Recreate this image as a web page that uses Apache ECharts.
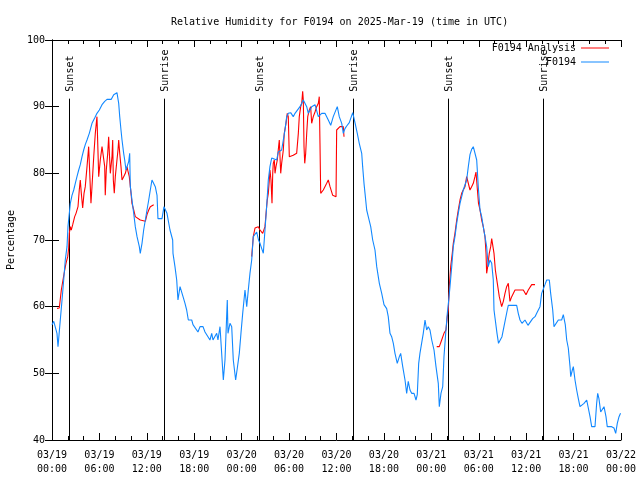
<!DOCTYPE html>
<html><head><meta charset="utf-8">
<script src="https://cdn.jsdelivr.net/npm/echarts@6/dist/echarts.min.js"></script>
<style>html,body{margin:0;padding:0;background:#fff}#c{width:640px;height:480px}</style>
</head><body><div id="c"></div>
<script>
// Hours since 2025-03-19 00:00 UTC
const blueHours = [0.00,0.22,0.42,0.63,0.76,0.82,1.05,1.27,1.48,1.68,1.90,2.02,2.19,2.32,2.53,2.75,2.95,3.16,3.38,3.58,3.80,4.01,4.21,4.43,4.72,5.06,5.40,5.69,5.99,6.33,6.67,6.96,7.50,7.81,8.22,8.44,8.57,8.73,8.86,9.07,9.20,9.36,9.58,9.71,9.83,9.91,10.12,10.34,10.54,10.76,11.05,11.17,11.39,11.60,11.81,12.02,12.24,12.44,12.65,12.87,13.07,13.29,13.41,13.92,14.17,14.42,14.55,14.93,15.27,15.31,15.56,15.78,15.94,16.20,16.41,16.58,16.83,17.04,17.25,17.68,17.84,18.09,18.47,18.73,19.11,19.36,19.57,19.99,20.21,20.37,20.84,21.00,21.26,21.47,21.68,21.89,22.02,22.18,22.27,22.52,22.74,22.94,23.24,23.45,23.70,23.91,24.13,24.42,24.64,24.84,25.05,25.27,25.47,25.90,26.13,26.32,26.74,26.95,27.16,27.37,27.58,27.80,28.43,28.63,29.06,29.27,29.48,29.70,29.90,30.20,30.53,30.75,31.38,31.80,32.23,32.43,32.86,33.28,33.70,34.13,34.54,34.96,35.27,35.59,36.10,36.35,36.66,36.86,37.07,37.29,37.62,38.05,38.34,38.63,38.88,39.19,39.31,39.48,39.61,39.82,40.02,40.33,40.58,40.87,41.09,41.42,41.72,42.01,42.35,42.55,42.77,42.98,43.19,43.40,43.69,43.95,44.12,44.38,44.67,44.88,45.08,45.30,45.51,45.81,46.06,46.22,46.40,46.56,46.78,46.98,47.20,47.41,47.61,47.83,48.05,48.34,48.59,48.88,49.01,49.22,49.44,49.60,49.85,50.02,50.20,50.36,50.58,50.78,50.99,51.21,51.41,51.63,51.84,52.04,52.26,52.47,52.68,52.89,53.10,53.31,53.46,53.74,53.94,54.16,54.37,54.57,54.79,55.00,55.20,55.42,55.64,55.84,55.93,56.06,56.31,56.50,56.69,56.94,57.19,57.61,57.74,58.80,59.00,59.22,59.47,59.85,60.23,60.48,60.82,61.12,61.41,61.75,61.96,62.16,62.38,62.60,62.93,63.10,63.36,63.52,63.77,64.07,64.49,64.70,64.88,64.95,65.13,65.33,65.55,65.64,65.84,65.97,66.18,66.39,66.60,66.81,67.03,67.32,67.66,67.86,68.08,68.29,68.71,68.92,69.05,69.21,69.43,69.68,69.85,70.10,70.26,70.82,71.11,71.33,71.53,71.75,71.94];
const blueValues = [57.3,57.8,58,56,54,54.3,58,61,64,67,69,72,74,75.5,76.7,77.5,78.5,79.5,80.5,81.3,82.5,83.5,84.3,85,86,87.5,88.3,89,89.5,90.3,90.8,91.1,91.1,91.8,92.1,90.5,88.5,86.5,85,83,82,80.5,80.5,81.8,83,78,76,74,72,70.5,69,68,69.5,71.5,73,74.5,76,77.5,79,79,78,76.7,73.2,73.2,75,75,74,71.5,70,68,66,64,61,63,63,61.5,60.5,59.5,58,58,57.3,57,56.2,57,57,56.2,56,55,56,55,56,55,57,57,49,52,56,61,56,57.5,57,52,49,50.8,53,56,59,62.5,60,62.5,65,67,70.5,71.2,70,69.5,68,71.5,75,79,81,82.3,82,83.2,83.5,85,86.5,88.5,89,89.1,88.5,89,90,91,90,89,90,90.3,88.5,89,89,88,87.2,88.5,90,88.5,87.5,86,86.7,87.1,87.6,89.1,87.6,86,84.5,83,81,78.5,77,74.5,73.5,72,70,68.5,66,63.5,62,60.3,59.7,58.5,56,55.5,54.5,53,51.5,52.5,53,51,49,47,48.8,47.5,47,47,46,46.8,51.5,53,53,56,58,56.5,57,56.5,55,53.5,51,48.5,45,47,48,52.5,56.5,59,61,63,66,69,70.5,72.5,74,75.5,76.5,77.5,77.8,79,81,82.8,83.6,84,84,82,78,74.5,73.5,72,70.5,69,66,67,66.5,64,59.5,58.3,56,54.5,54.2,55.5,57,59.5,60.2,60.2,59,58,57.5,58,57.2,57.5,58.2,58.5,59.2,60,62,62.2,63.3,64,64,62,59.5,57,57.2,58,58,58.8,59,57.3,55,53.8,51,49.5,50.5,51,49,47.5,46.2,45,45,45.5,46,45.8,43.5,42,42,45.5,47,46.2,44.2,44.5,45,43.5,42,42,41.8,41,42.5,43.5,44];
// Analysis: three runs, separated by gaps (null)
const redHours = [0.63,0.92,1.18,1.39,1.61,1.77,1.99,2.11,2.19,2.32,2.44,2.62,2.75,2.87,3.04,3.29,3.45,3.58,3.71,3.88,4.05,4.21,4.43,4.64,4.85,4.93,5.06,5.28,5.48,5.69,5.82,5.91,6.11,6.33,6.54,6.67,6.74,6.87,7.05,7.17,7.30,7.38,7.59,7.68,7.76,7.88,8.01,8.22,8.35,8.44,8.57,8.73,8.86,9.07,9.28,9.49,9.62,9.78,9.96,10.12,10.34,10.54,10.76,11.17,11.81,12.02,12.24,12.44,12.65,12.87,
  19.0,
  25.27,25.47,25.69,25.81,26.10,26.32,26.66,26.83,26.95,27.16,27.24,27.37,27.50,27.58,27.71,27.84,27.93,28.00,28.13,28.22,28.34,28.51,28.63,28.76,28.85,28.94,29.06,29.27,29.39,29.61,29.77,29.90,30.03,30.53,30.96,31.17,31.29,31.47,31.60,31.72,31.80,31.89,31.98,32.10,32.23,32.36,32.56,32.73,32.86,33.06,33.28,33.49,33.70,33.82,33.91,34.00,34.33,34.76,34.96,35.18,35.52,35.94,36.02,36.44,36.66,36.86,36.95,
  43.0,
  48.68,49.01,49.31,49.60,49.85,50.02,50.15,50.27,50.45,50.65,50.78,50.99,51.21,51.41,51.63,51.84,52.04,52.26,52.47,52.68,52.89,53.10,53.31,53.52,53.65,53.81,53.97,54.16,54.37,54.57,54.79,54.92,55.00,55.13,55.33,55.51,55.64,55.77,55.93,56.10,56.35,56.60,56.90,57.11,57.32,57.53,57.74,57.95,58.17,58.59,59.00,59.64,59.98,60.27,60.70,61.12];
const redValues = [59.75,59.8,62.5,64,65.5,66.5,67.5,68.8,71,72,71.5,72.3,72.3,73.5,74,75,77.5,79,77,74.8,77,78,81,84,84,75.5,78,82.5,86,88.5,88.5,79.5,82,84,84,81,76.7,80.5,83,85.5,82,80,82.5,85,79,77,79.5,82,83.5,85,83,81,79,79.5,80,81,80.3,79.5,77.5,75.5,74.5,73.5,73.3,73,72.8,73.8,74.5,75,75.3,75.3,
  null,
  67.5,70.5,71.8,72,72,71.5,71,71,72,75,76,77,79,80.5,79,75.5,80,81.5,82,80,81,82,83.5,85,85,80,81.5,83.5,86,87.5,89,88.5,82.5,82.7,83,86,88.5,90,90.5,92.3,91,84,81.5,83,86,88.5,89.5,90,87.5,88.5,89.2,90,90.5,91.5,84.5,77,77.5,78.5,79,78,76.7,76.5,86.5,87,87.2,87,85.5,
  null,
  54,54,55,56,56.5,58.5,59.5,63,66,68,69.5,71,73,74.5,76,77,77.5,78,79.5,79.8,77.5,78,78.5,79.5,80.2,77.8,75.5,74.5,73,72,70.5,68,65,66,68,69,70.2,70.5,68,65.5,63.5,61.5,60,60.8,62,63,63.5,60.8,61.5,62.5,62.5,62.5,61.8,62.5,63.3,63.3];
const sunHours = [2.19,14.21,26.22,38.13,50.14,62.17];
const sunLabels = ['Sunset','Sunrise','Sunset','Sunrise','Sunset','Sunrise'];
const sunLineTop = 91.2;
const xTickLabels = ['03/19\n00:00','03/19\n06:00','03/19\n12:00','03/19\n18:00','03/20\n00:00','03/20\n06:00','03/20\n12:00','03/20\n18:00','03/21\n00:00','03/21\n06:00','03/21\n12:00','03/21\n18:00','03/22\n00:00'];

const FONT = '"DejaVu Sans Mono", "Liberation Mono", monospace';
const chart = echarts.init(document.getElementById('c'), null, {renderer: 'canvas'});
const zip = (a, b) => a.map((h, i) => [h, b[i] === null ? '-' : b[i]]);

const axisCommon = {
  axisLine: {show: true, lineStyle: {color: '#000', width: 1}},
  splitLine: {show: false},
};
chart.setOption({
  animation: false,
  backgroundColor: '#fff',
  textStyle: {fontFamily: FONT},
  title: {
    text: 'Relative Humidity for F0194 on 2025-Mar-19 (time in UTC)',
    left: 166, top: 12,
    textStyle: {fontFamily: FONT, fontSize: 10, fontWeight: 'normal', color: '#000'}
  },
  legend: [
    {data: ['F0194 Analysis'], right: 31, top: 43, padding: 0, align: 'right', itemWidth: 28, itemHeight: 1, icon: 'rect', itemGap: 0,
     textStyle: {fontFamily: FONT, fontSize: 10, color: '#000'}},
    {data: ['F0194'], right: 31, top: 57, padding: 0, align: 'right', itemWidth: 28, itemHeight: 1, icon: 'rect', itemGap: 0,
     textStyle: {fontFamily: FONT, fontSize: 10, color: '#000'}}
  ],
  grid: {left: 52, right: 19, top: 40, bottom: 40, containLabel: false, outerBoundsMode: 'none'},
  xAxis: [
    Object.assign({type: 'value', min: 0, max: 72, interval: 6, position: 'bottom',
      axisTick: {show: true, inside: true, length: 7, lineStyle: {color: '#000'}},
      minorTick: {show: true, splitNumber: 3, length: 4, lineStyle: {color: '#000'}},
      axisLabel: {show: true, margin: 8, fontFamily: FONT, fontSize: 10, color: '#000', lineHeight: 14,
        formatter: v => xTickLabels[Math.round(v / 6)]}}, axisCommon),
    Object.assign({type: 'value', min: 0, max: 72, interval: 6, position: 'top',
      axisTick: {show: true, inside: true, length: 7, lineStyle: {color: '#000'}},
      minorTick: {show: true, splitNumber: 3, length: 4, lineStyle: {color: '#000'}},
      axisLabel: {show: false}}, axisCommon)
  ],
  yAxis: [
    Object.assign({type: 'value', min: 40, max: 100, interval: 10, position: 'left',
      name: 'Percentage', nameLocation: 'middle', nameGap: 34, nameRotate: 90,
      nameTextStyle: {fontFamily: FONT, fontSize: 10, color: '#000'},
      axisTick: {show: true, inside: true, length: 7, lineStyle: {color: '#000'}},
      axisLabel: {show: true, margin: 7, fontFamily: FONT, fontSize: 10, color: '#000'}}, axisCommon),
    Object.assign({type: 'value', min: 40, max: 100, interval: 10, position: 'right',
      axisTick: {show: true, inside: true, length: 7, lineStyle: {color: '#000'}},
      axisLabel: {show: false}}, axisCommon)
  ],
  series: [
    {name: 'F0194 Analysis', type: 'line', xAxisIndex: 0, yAxisIndex: 0, data: zip(redHours, redValues),
     showSymbol: false, symbol: 'none', connectNulls: false, color: '#ff0000', lineStyle: {width: 1.1, color: '#ff0000'}, z: 3},
    {name: 'F0194', type: 'line', xAxisIndex: 0, yAxisIndex: 0, data: zip(blueHours, blueValues),
     showSymbol: false, symbol: 'none', color: '#1188ff', lineStyle: {width: 1.1, color: '#1188ff'}, z: 4},
    {name: 'sun', type: 'custom', xAxisIndex: 0, yAxisIndex: 0, z: 2,
     data: sunHours.map(h => [h, sunLineTop]),
     renderItem: (params, api) => {
       const h = api.value(0);
       const top = api.coord([h, sunLineTop]);
       const bot = api.coord([h, 40]);
       const x = Math.round(top[0]) + 0.5;
       return {type: 'group', children: [
         {type: 'line', shape: {x1: x, y1: top[1], x2: x, y2: bot[1]}, style: {stroke: '#000', lineWidth: 1}},
         {type: 'text', x: x + 1, y: top[1] - 7, rotation: Math.PI / 2,
          style: {text: sunLabels[params.dataIndex], font: '10px ' + FONT, fill: '#000', align: 'left', verticalAlign: 'middle'}}
       ]};
     }}
  ]
});
</script></body></html>
